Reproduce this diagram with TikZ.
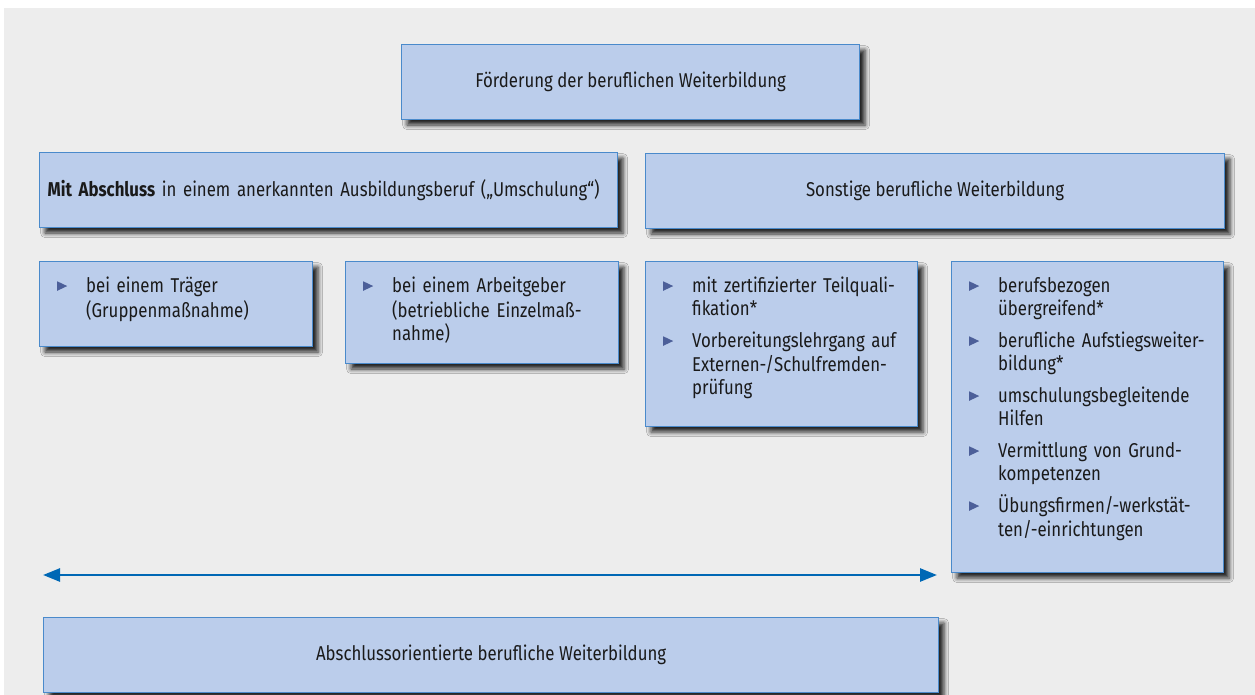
\documentclass[tikz,border=0pt]{standalone}
\usepackage{fontspec}
\setmainfont{Fira Sans}[FakeStretch=0.84]
\usetikzlibrary{arrows.meta,shadows.blur}

\definecolor{pagebg}{HTML}{EDEDED}
\definecolor{boxfill}{HTML}{BBCDEB}
\definecolor{boxline}{HTML}{4A8ACB}
\definecolor{arrowc}{HTML}{0068B5}
\definecolor{bulletc}{HTML}{4C5F99}
\definecolor{textc}{HTML}{1A1A1A}

% triangular bullet and a hanging list item
\newcommand{\bul}{\tikz[baseline=0pt]\fill[bulletc] (0pt,1.5pt)--(0pt,11pt)--(10pt,6.25pt)--cycle;}
\newcommand{\itm}[1]{\noindent\hangindent=29pt\hangafter=1\makebox[29pt][l]{\bul}\strut#1\par}

\tikzset{
  box/.style={draw=boxline, fill=boxfill, line width=1.2pt, anchor=north west,
    inner sep=0pt, text=textc, font=\fontsize{20}{23}\selectfont,
    blur shadow={shadow xshift=5.5pt, shadow yshift=-5.5pt, shadow blur radius=4.5pt, shadow opacity=85}},
  listtext/.style={anchor=north west, inner sep=0pt, text width=280pt, text=textc,
    xshift=18pt, yshift=-15pt,
    font=\fontsize{20}{23}\selectfont\setlength{\parskip}{9pt}},
}

\begin{document}
\begin{tikzpicture}[x=1pt,y=-1pt]
\useasboundingbox (0,0) rectangle (1255,695);
\fill[white] (0,0) rectangle (1255,695);
\fill[pagebg] (4,8) rectangle (1255,695);

% headline and the two branches
\node[box, minimum width=458pt, minimum height=75pt] (top) at (401,44)
  {Förderung der beruflichen Weiterbildung};
\node[box, minimum width=578pt, minimum height=75pt, text width=562pt, align=left] (mit) at (39,152)
  {\textbf{Mit Abschluss} in einem anerkannten Ausbildungsberuf („Umschulung“)};
\node[box, minimum width=579pt, minimum height=75pt] (sonst) at (645,153)
  {Sonstige berufliche Weiterbildung};

% detail boxes
\node[box, minimum width=273pt, minimum height=85pt]  (b1) at (39,261) {};
\node[box, minimum width=273pt, minimum height=102pt] (b2) at (345,261) {};
\node[box, minimum width=272pt, minimum height=165pt] (b3) at (645,261) {};
\node[box, minimum width=272pt, minimum height=311pt] (b4) at (951,261) {};

\node[listtext] (t1) at (b1.north west) {%
  \itm{bei einem Träger\newline (Gruppenmaßnahme)}};
\node[listtext] (t2) at (b2.north west) {%
  \itm{bei einem Arbeitgeber\newline (betriebliche Einzelmaß-\newline nahme)}};
\node[listtext] (t3) at (b3.north west) {%
  \itm{mit zertifizierter Teilquali-\newline fikation*}
  \itm{Vorbereitungslehrgang auf\newline Externen-/Schulfremden-\newline prüfung}};
\node[listtext] (t4) at (b4.north west) {%
  \itm{berufsbezogen\newline übergreifend*}
  \itm{berufliche Aufstiegsweiter-\newline bildung*}
  \itm{umschulungsbegleitende\newline Hilfen}
  \itm{Vermittlung von Grund-\newline kompetenzen}
  \itm{Übungsfirmen/-werkstät-\newline ten/-einrichtungen}};

% span of qualifying further training
\coordinate (arrL) at (43,575);
\coordinate (arrR) at (937,575);
\draw[arrowc, line width=2.6pt, {Triangle[length=17pt,width=13pt]}-{Triangle[length=17pt,width=13pt]}]
  (arrL) -- (arrR);

\node[box, minimum width=895pt, minimum height=75pt] (ab) at (43,617)
  {Abschlussorientierte berufliche Weiterbildung};
\end{tikzpicture}
\end{document}
